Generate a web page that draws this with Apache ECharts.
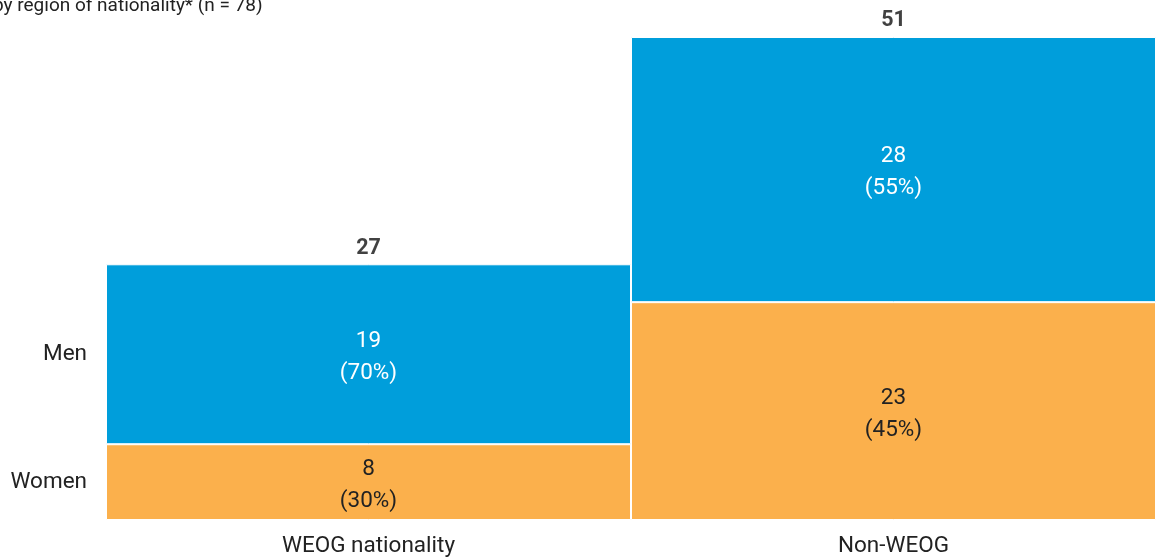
<!DOCTYPE html>
<html>
<head>
<meta charset="utf-8">
<style>
  html, body { margin: 0; padding: 0; background: #fff; }
  #chart { width: 1159px; height: 559px; }
</style>
<script src="https://cdn.jsdelivr.net/npm/echarts@6/dist/echarts.min.js"></script>
</head>
<body>
<div id="chart"></div>
<script>
// categories and values
var categories = ['WEOG nationality', 'Non-WEOG'];
var women = [8, 23];
var men = [19, 28];
var totals = [27, 51];
var womenPct = [30, 45];
var menPct = [70, 55];
var rowLabels = ['Women', 'Men'];

var myChart = echarts.init(document.getElementById('chart'));
var font = 'Roboto, "Noto Sans", sans-serif';

var option = {
    animation: false,
    textStyle: { fontFamily: font },
    title: {
        text: 'by region of nationality* (n = 78)',
        left: -12,
        top: -8,
        textStyle: { fontSize: 19, fontWeight: 'normal', color: '#222', fontFamily: font }
    },
    grid: { left: 106, right: 3, top: 37, bottom: 39 },
    xAxis: {
        type: 'category',
        data: categories,
        axisLine: { show: false },
        axisTick: { show: false },
        axisLabel: { fontSize: 22.5, color: '#222', margin: 15, fontFamily: font }
    },
    yAxis: {
        type: 'value',
        min: 0,
        max: totals[1],
        splitLine: { show: false },
        axisLine: { show: false },
        axisTick: { show: false },
        axisLabel: {
            // row labels sit at the centre of the first bar's segments
            customValues: [women[0] / 2, women[0] + men[0] / 2],
            formatter: function (v) {
                return v < women[0] ? rowLabels[0] : rowLabels[1];
            },
            fontSize: 22.5,
            color: '#222',
            margin: 19,
            padding: [5, 0, 0, 0],
            fontFamily: font
        }
    },
    series: [
        {
            name: 'Women',
            type: 'bar',
            stack: 'total',
            barWidth: '100%',
            data: women,
            itemStyle: { color: '#FBB04C', borderColor: '#fff', borderWidth: 1 },
            label: {
                show: true,
                position: 'inside',
                offset: [0, 3],
                color: '#222',
                fontSize: 22.5,
                lineHeight: 32,
                fontFamily: font,
                formatter: function (p) { return p.value + '\n(' + womenPct[p.dataIndex] + '%)'; }
            }
        },
        {
            name: 'Men',
            type: 'bar',
            stack: 'total',
            barWidth: '100%',
            data: men,
            itemStyle: { color: '#009EDB', borderColor: '#fff', borderWidth: 1 },
            label: {
                show: true,
                position: 'inside',
                offset: [0, 3],
                color: '#fff',
                fontSize: 22.5,
                lineHeight: 32,
                fontFamily: font,
                formatter: function (p) { return p.value + '\n(' + menPct[p.dataIndex] + '%)'; }
            }
        },
        {
            name: 'Total',
            type: 'scatter',
            symbolSize: 0,
            data: totals.map(function (t, i) { return [categories[i], t]; }),
            label: {
                show: true,
                position: 'top',
                distance: 5,
                color: '#111',
                fontSize: 21.5,
                fontWeight: 'bold',
                fontFamily: font,
                formatter: function (p) { return p.value[1]; }
            },
            silent: true
        }
    ]
};
myChart.setOption(option);
</script>
</body>
</html>
